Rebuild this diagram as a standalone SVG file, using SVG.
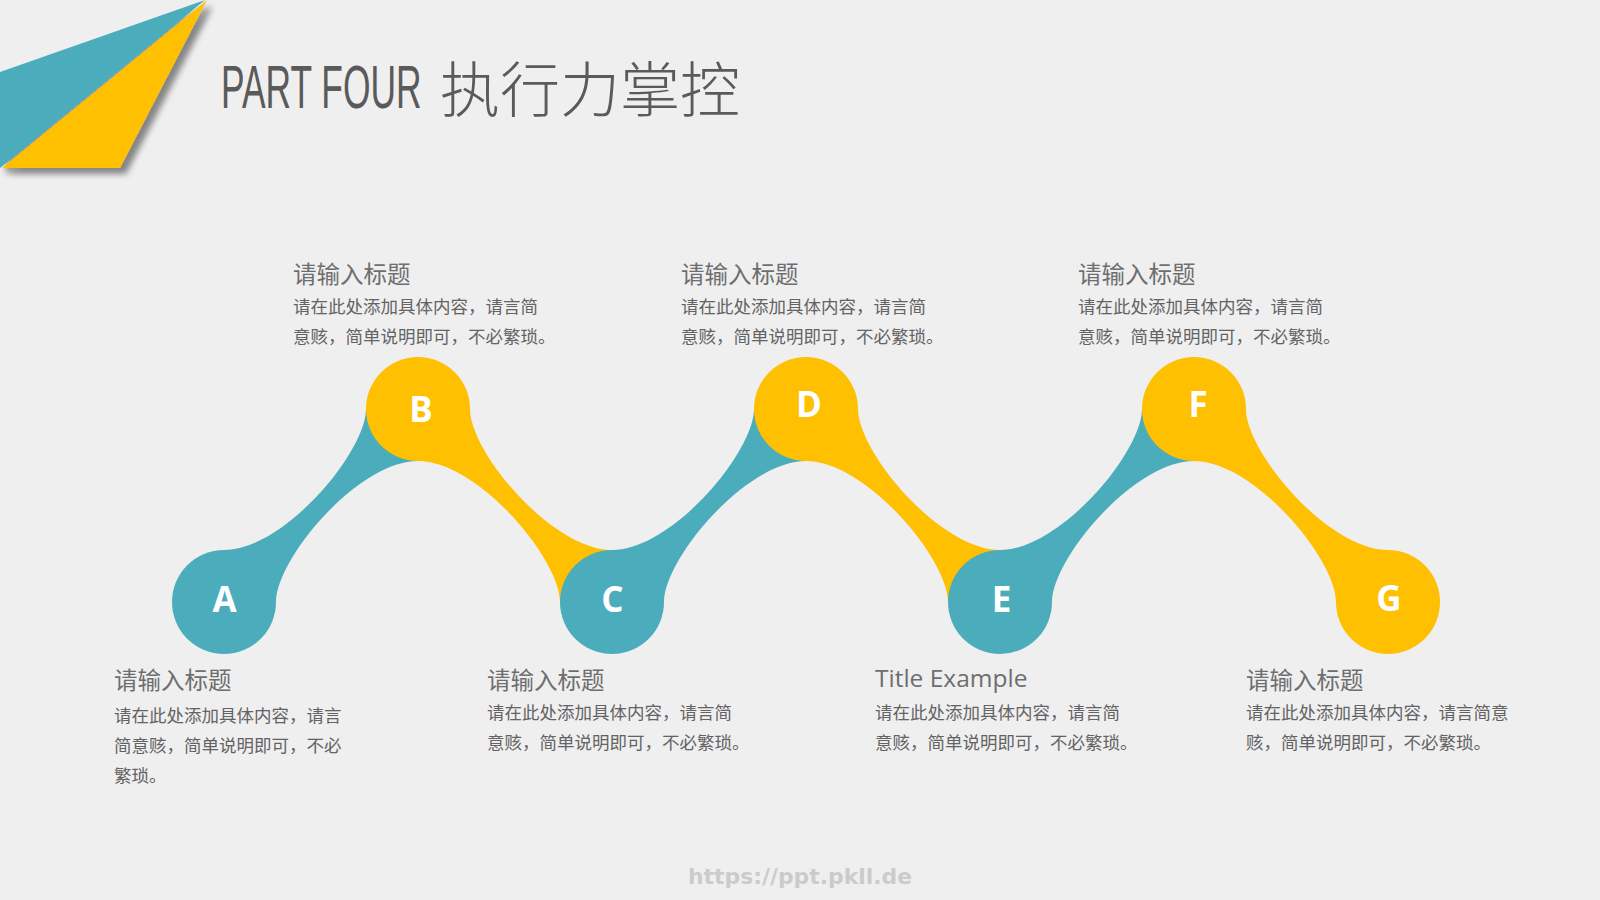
<svg xmlns="http://www.w3.org/2000/svg" width="1600" height="900" viewBox="0 0 1600 900">
<defs>
<filter id="shadow" x="-10%" y="-10%" width="130%" height="130%">
<feGaussianBlur in="SourceAlpha" stdDeviation="3"/>
<feOffset dx="6" dy="6" result="b"/>
<feComponentTransfer><feFuncA type="linear" slope="0.45"/></feComponentTransfer>
<feMerge><feMergeNode/><feMergeNode in="SourceGraphic"/></feMerge>
</filter>
</defs>
<style>
.teal{fill:#4BADBC}
.gold{fill:#FEC000}
.letter{font-family:"Open Sans","Noto Sans","DejaVu Sans",sans-serif;font-weight:700;font-size:35px;fill:#FFFFFF;text-anchor:middle}
.ttl{font-family:"Noto Sans CJK SC","Noto Sans",sans-serif;font-size:23.5px;fill:#6E6E6E}
.ttlen{font-family:"Open Sans","Noto Sans",sans-serif;font-size:24.5px;fill:#6E6E6E}
.body{font-family:"Noto Sans CJK SC",sans-serif;font-size:17.5px;fill:#636363}
</style>
<rect width="1600" height="900" fill="#EFEFF0"/>
<g id="corner" filter="url(#shadow)">
<polygon class="teal" points="0,72 205,0 0,168"/>
<polygon class="gold" points="207,0 120,168 2,168"/>
</g>
<g id="title">
<text transform="translate(221,108) scale(0.58,1)" x="0" y="0" font-family="'Liberation Sans',sans-serif" font-size="61" fill="#5A5A5A">PART FOUR</text>
<text x="440" y="112" font-family="'Noto Sans CJK SC',sans-serif" font-weight="300" font-size="60" fill="#5A5A5A">执行力掌控</text>
</g>
<g id="connectors">
<path id="band-AB" class="teal" d="M224,550 C284,550 366,452 366,409 L418,409 L418,461 C358,461 276,559 276,602 L224,602 Z"/>
<path id="band-BC" class="gold" d="M470,409 C470,452 552,550 612,550 L612,602 L560,602 C560,559 478,461 418,461 L418,409 Z"/>
<path id="band-CD" class="teal" d="M612,550 C672,550 754,452 754,409 L806,409 L806,461 C746,461 664,559 664,602 L612,602 Z"/>
<path id="band-DE" class="gold" d="M858,409 C858,452 940,550 1000,550 L1000,602 L948,602 C948,559 866,461 806,461 L806,409 Z"/>
<path id="band-EF" class="teal" d="M1000,550 C1060,550 1142,452 1142,409 L1194,409 L1194,461 C1134,461 1052,559 1052,602 L1000,602 Z"/>
<path id="band-FG" class="gold" d="M1246,409 C1246,452 1328,550 1388,550 L1388,602 L1336,602 C1336,559 1254,461 1194,461 L1194,409 Z"/>
</g>
<g id="node-A"><circle class="teal" cx="224" cy="602" r="52"/><text class="letter" x="224.5" y="612">A</text></g>
<g id="node-B"><circle class="gold" cx="418" cy="409" r="52"/><text class="letter" x="421" y="422">B</text></g>
<g id="node-C"><circle class="teal" cx="612" cy="602" r="52"/><text class="letter" x="612.5" y="612">C</text></g>
<g id="node-D"><circle class="gold" cx="806" cy="409" r="52"/><text class="letter" x="809" y="417">D</text></g>
<g id="node-E"><circle class="teal" cx="1000" cy="602" r="52"/><text class="letter" x="1001.5" y="612">E</text></g>
<g id="node-F"><circle class="gold" cx="1194" cy="409" r="52"/><text class="letter" x="1198" y="417">F</text></g>
<g id="node-G"><circle class="gold" cx="1388" cy="602" r="52"/><text class="letter" x="1389" y="611">G</text></g>
<g id="text-B">
<text class="ttl" x="293" y="283">请输入标题</text>
<text class="body" x="293" y="313">请在此处添加具体内容，请言简</text>
<text class="body" x="293" y="342.5">意赅，简单说明即可，不必繁琐。</text>
</g>
<g id="text-D">
<text class="ttl" x="681" y="283">请输入标题</text>
<text class="body" x="681" y="313">请在此处添加具体内容，请言简</text>
<text class="body" x="681" y="342.5">意赅，简单说明即可，不必繁琐。</text>
</g>
<g id="text-F">
<text class="ttl" x="1078" y="283">请输入标题</text>
<text class="body" x="1078" y="313">请在此处添加具体内容，请言简</text>
<text class="body" x="1078" y="342.5">意赅，简单说明即可，不必繁琐。</text>
</g>
<g id="text-A">
<text class="ttl" x="114" y="689">请输入标题</text>
<text class="body" x="114" y="721.5">请在此处添加具体内容，请言</text>
<text class="body" x="114" y="751.5">简意赅，简单说明即可，不必</text>
<text class="body" x="114" y="781.5">繁琐。</text>
</g>
<g id="text-C">
<text class="ttl" x="487" y="689">请输入标题</text>
<text class="body" x="487" y="719">请在此处添加具体内容，请言简</text>
<text class="body" x="487" y="748.5">意赅，简单说明即可，不必繁琐。</text>
</g>
<g id="text-E">
<text class="ttlen" x="875" y="687">Title Example</text>
<text class="body" x="875" y="719">请在此处添加具体内容，请言简</text>
<text class="body" x="875" y="748.5">意赅，简单说明即可，不必繁琐。</text>
</g>
<g id="text-G">
<text class="ttl" x="1246" y="689">请输入标题</text>
<text class="body" x="1246" y="719">请在此处添加具体内容，请言简意</text>
<text class="body" x="1246" y="748.5">赅，简单说明即可，不必繁琐。</text>
</g>
<g id="footer">
<text x="688" y="884" font-family="'DejaVu Sans',sans-serif" font-weight="700" font-size="21" fill="#CBCBCB" textLength="224" lengthAdjust="spacingAndGlyphs">https://ppt.pkll.de</text>
</g>
</svg>
